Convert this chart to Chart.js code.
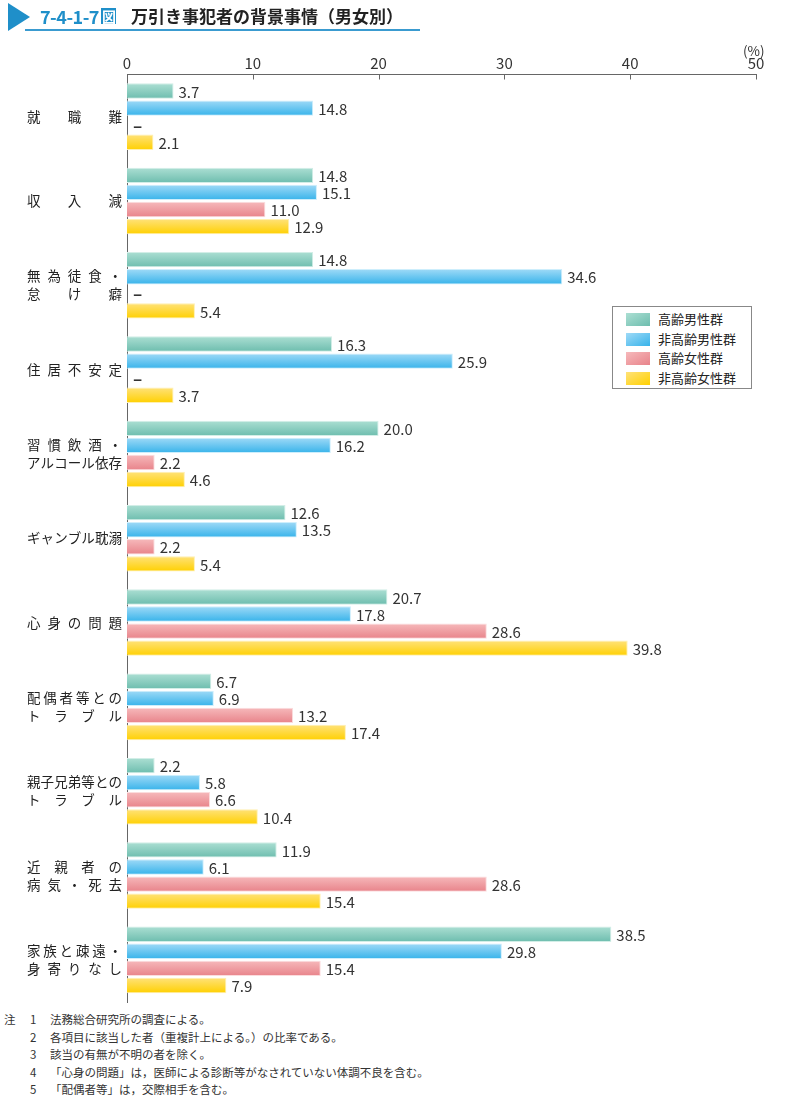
<!DOCTYPE html>
<html><head><meta charset="utf-8">
<script src="https://cdn.jsdelivr.net/npm/chart.js@4"></script>
<style>
body{margin:0;background:#fff;font-family:"Noto Sans CJK JP","Noto Sans",sans-serif;}
#wrap{position:relative;width:796px;height:1098px;overflow:hidden;}
#cv{position:absolute;left:0;top:0;}
.abs{position:absolute;white-space:nowrap;}
#tri{position:absolute;left:8px;top:3px;width:0;height:0;border-top:14px solid transparent;border-bottom:14px solid transparent;border-left:22px solid #1f8fc9;}
#tline{position:absolute;left:25px;top:29px;width:395px;height:2px;background:#3a9bd0;}
#tnum{left:40px;top:3px;font-size:18px;font-weight:bold;color:#1f8fc9;letter-spacing:-0.5px;}
#tnum span{display:inline-block;background:#1f8fc9;color:#fff;font-size:14px;line-height:16px;padding:0 1px;margin-left:2px;vertical-align:2px;}
#ttext{left:131px;top:3px;font-size:17px;font-weight:bold;color:#222;}
#pct{left:743px;top:40px;font-size:13.5px;color:#333;}
#legend{position:absolute;left:612px;top:306px;width:140px;height:83px;border:1px solid #888;box-sizing:border-box;background:#fff;}
.li{position:absolute;left:13px;font-size:13px;color:#222;line-height:16px;}
.sw{display:inline-block;width:24px;height:13px;vertical-align:-2px;margin-right:8px;}
#notes{left:4px;top:1011px;font-size:11.5px;color:#333;line-height:17.6px;}
#notes td{padding:0;vertical-align:top;}
</style></head>
<body><div id="wrap">
<canvas id="cv" width="796" height="1010"></canvas>
<div id="tri"></div><div id="tline"></div>
<div id="tnum" class="abs">7-4-1-7<span>図</span></div>
<div id="ttext" class="abs">万引き事犯者の背景事情（男女別）</div>
<div id="pct" class="abs">(%)</div>
<div id="legend"></div>
<div id="notes" class="abs"><table cellspacing="0">
<tr><td style="width:26px">注</td><td style="width:20px">1</td><td>法務総合研究所の調査による。</td></tr>
<tr><td></td><td>2</td><td>各項目に該当した者（重複計上による。）の比率である。</td></tr>
<tr><td></td><td>3</td><td>該当の有無が不明の者を除く。</td></tr>
<tr><td></td><td>4</td><td>「心身の問題」は，医師による診断等がなされていない体調不良を含む。</td></tr>
<tr><td></td><td>5</td><td>「配偶者等」は，交際相手を含む。</td></tr>
</table></div>
</div>
<script>
const categories = [
  ["就職難"],
  ["収入減"],
  ["無為徒食・","怠け癖"],
  ["住居不安定"],
  ["習慣飲酒・","アルコール依存"],
  ["ギャンブル耽溺"],
  ["心身の問題"],
  ["配偶者等との","トラブル"],
  ["親子兄弟等との","トラブル"],
  ["近親者の","病気・死去"],
  ["家族と疎遠・","身寄りなし"]
];
const seriesNames = ["高齢男性群","非高齢男性群","高齢女性群","非高齢女性群"];
const elderlyMale    = [3.7, 14.8, 14.8, 16.3, 20.0, 12.6, 20.7, 6.7, 2.2, 11.9, 38.5];
const nonElderlyMale = [14.8, 15.1, 34.6, 25.9, 16.2, 13.5, 17.8, 6.9, 5.8, 6.1, 29.8];
const elderlyFemale  = [null, 11.0, null, null, 2.2, 2.2, 28.6, 13.2, 6.6, 28.6, 15.4];
const nonElderlyFemale = [2.1, 12.9, 5.4, 3.7, 4.6, 5.4, 39.8, 17.4, 10.4, 15.4, 7.9];
const xTicks = [0, 10, 20, 30, 40, 50];

const palette = [
  {top:"#acdfd3", bot:"#6dbdae", border:"#d2eee7"},
  {top:"#9fdaf7", bot:"#37b3ea", border:"#cdeefc"},
  {top:"#f6b9bb", bot:"#e8838a", border:"#fbdcdd"},
  {top:"#ffe27a", bot:"#ffd000", border:"#fff0b0"}
];
const CAT_PCT = 0.81, BAR_PCT = 0.9;
const FONT = '"Noto Sans CJK JP","Noto Sans",sans-serif';

function gradFor(ds){
  return function(ctx){
    const chart = ctx.chart, ys = chart.scales.y;
    const p = palette[ds];
    if(!ys || ctx.dataIndex === undefined || !chart.chartArea) return p.bot;
    const c = ys.getPixelForValue(ctx.dataIndex);
    const catH = (ys.bottom - ys.top) / categories.length;
    const pitch = catH * CAT_PCT / 4;
    const mid = c - catH*CAT_PCT/2 + pitch*(ds+0.5);
    const h = pitch*BAR_PCT/2;
    const g = chart.ctx.createLinearGradient(0, mid-h, 0, mid+h);
    g.addColorStop(0, p.top); g.addColorStop(1, p.bot);
    return g;
  };
}
const allSeries = [elderlyMale, nonElderlyMale, elderlyFemale, nonElderlyFemale];

const lg = document.getElementById('legend');
seriesNames.forEach((n,i)=>{
  const d = document.createElement('div'); d.className='li'; d.style.top=(4+i*19.7)+'px';
  d.innerHTML = '<span class="sw" style="background:linear-gradient(to bottom right,'+palette[i].top+','+palette[i].bot+')"></span>'+n;
  lg.appendChild(d);
});

const labelPlugin = {
  id:'labels',
  afterDatasetsDraw(chart){
    const ctx = chart.ctx, xs = chart.scales.x, ys = chart.scales.y;
    ctx.save();
    ctx.strokeStyle = '#666'; ctx.lineWidth = 1;
    xs.ticks.forEach(t=>{
      const x = Math.round(xs.getPixelForValue(t.value))+0.5;
      if(t.value===0) return;
      ctx.beginPath(); ctx.moveTo(x, xs.bottom); ctx.lineTo(x, xs.bottom+5); ctx.stroke();
    });
    ctx.fillStyle = '#333';
    ctx.textBaseline = 'middle'; ctx.textAlign = 'left';
    chart.data.datasets.forEach((ds, di)=>{
      const meta = chart.getDatasetMeta(di);
      meta.data.forEach((el, i)=>{
        const v = ds.data[i];
        if(v === null){ ctx.font = 'bold 17px '+FONT; ctx.fillText('–', xs.getPixelForValue(0)+6, el.y); }
        else { ctx.font = '15px '+FONT; ctx.fillText(v.toFixed(1), xs.getPixelForValue(v)+5, el.y+1); }
      });
    });
    ctx.font = '13.5px '+FONT; ctx.fillStyle = '#222';
    const x0 = 27, x1 = 122, lh = 18;
    categories.forEach((lines, i)=>{
      const c = ys.getPixelForValue(i);
      lines.forEach((line, li)=>{
        const y = c + (li - (lines.length-1)/2)*lh;
        const chars = Array.from(line);
        const widths = chars.map(ch=>ctx.measureText(ch).width);
        const tot = widths.reduce((a,b)=>a+b,0);
        const gap = chars.length>1 ? (x1-x0-tot)/(chars.length-1) : 0;
        let x = x0;
        chars.forEach((ch,k)=>{ ctx.fillText(ch, x, y); x += widths[k]+gap; });
      });
    });
    ctx.restore();
  }
};

new Chart(document.getElementById('cv'), {
  type:'bar',
  data:{
    labels: categories,
    datasets: allSeries.map((arr, i)=>({
      label: seriesNames[i], data: arr,
      backgroundColor: gradFor(i),
      borderColor: palette[i].border, borderWidth: 1,
      categoryPercentage: CAT_PCT, barPercentage: BAR_PCT
    }))
  },
  options:{
    indexAxis:'y', responsive:false, animation:false,
    layout:{padding:{left:0, right:40, top:0, bottom:8}},
    plugins:{legend:{display:false}, tooltip:{enabled:false}},
    scales:{
      x:{ position:'top', min:0, max:50,
          afterBuildTicks(s){ s.ticks = xTicks.map(v=>({value:v})); },
          afterFit(s){ s.height = 74.5; },
          ticks:{ font:{size:15, family:FONT}, color:'#333', padding:2, maxRotation:0 },
          grid:{ display:false, drawTicks:false, tickLength:0 },
          border:{ display:true, color:'#666', width:1 } },
      y:{ afterFit(s){ s.width = 127; },
          ticks:{ display:false },
          grid:{ display:false },
          border:{ display:true, color:'#666', width:1 } }
    }
  },
  plugins:[labelPlugin]
});
</script>
</body></html>
